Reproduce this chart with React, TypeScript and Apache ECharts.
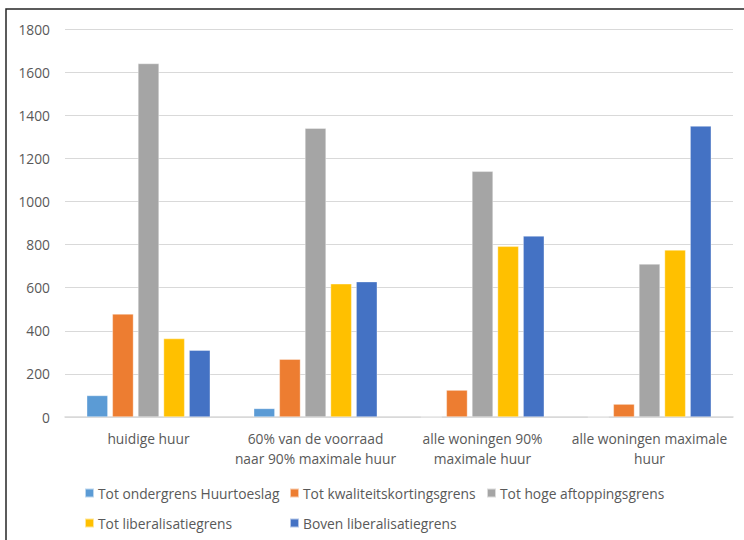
import React, { useEffect, useRef } from "react";
import * as echarts from "echarts";

const categories = [
  "huidige huur",
  "60% van de voorraad\nnaar 90% maximale huur",
  "alle woningen 90%\nmaximale huur",
  "alle woningen maximale\nhuur",
];
const seriesNames = [
  "Tot ondergrens Huurtoeslag",
  "Tot kwaliteitskortingsgrens",
  "Tot hoge aftoppingsgrens",
  "Tot liberalisatiegrens",
  "Boven liberalisatiegrens",
];
const colors = ["#5B9BD5", "#ED7D31", "#A5A5A5", "#FFC000", "#4472C4"];
const ondergrens = [100, 40, 0, 0];
const kwaliteit = [478, 268, 125, 60];
const aftopping = [1640, 1340, 1140, 710];
const liberalisatie = [364, 618, 792, 775];
const boven = [310, 628, 840, 1350];
const seriesValues = [ondergrens, kwaliteit, aftopping, liberalisatie, boven];
const yTicks = [0, 200, 400, 600, 800, 1000, 1200, 1400, 1600, 1800];

const FONT = "Open Sans";
const TXT = "#595959";
const FS = 13.8;

export default function App() {
  const ref = useRef<HTMLDivElement>(null);
  useEffect(() => {
    document.body.style.margin = "0";
    const chart = echarts.init(ref.current!, null, { renderer: "svg" });
    const legendPos = [
      { left: 84, top: 486 },
      { left: 289, top: 486 },
      { left: 486, top: 486 },
      { left: 84, top: 516 },
      { left: 289, top: 516 },
    ];
    chart.setOption({
      animation: false,
      backgroundColor: "#ffffff",
      color: colors,
      textStyle: { fontFamily: FONT },
      grid: { left: 65, right: 11, top: 29, bottom: 123, containLabel: false },
      legend: seriesNames.map((n, i) => ({
        data: [n],
        left: legendPos[i].left,
        top: legendPos[i].top,
        itemWidth: 9,
        itemHeight: 9,
        itemGap: 0,
        padding: 0,
        icon: "rect",
        textStyle: { color: TXT, fontSize: FS, fontFamily: FONT, padding: [0, 0, 0, -1] },
      })),
      xAxis: {
        type: "category",
        data: categories,
        axisLine: { lineStyle: { color: "#d9d9d9", width: 1.5 } },
        axisTick: { show: false },
        axisLabel: {
          color: TXT,
          fontSize: FS,
          fontFamily: FONT,
          lineHeight: 20,
          margin: 11,
          interval: 0,
        },
      },
      yAxis: {
        type: "value",
        min: 0,
        max: yTicks[yTicks.length - 1],
        interval: 200,
        axisLine: { show: false },
        axisTick: { show: false },
        splitLine: { lineStyle: { color: "#d9d9d9", width: 1 } },
        axisLabel: {
          color: TXT,
          fontSize: FS,
          fontFamily: FONT,
          margin: 15,
          formatter: (v: number) => String(v),
        },
      },
      series: seriesNames.map((n, i) => ({
        name: n,
        type: "bar",
        data: seriesValues[i],
        barGap: "21%",
        barCategoryGap: "26%",
        itemStyle: { color: colors[i], borderColor: "rgba(255,255,255,0.6)", borderWidth: 0.6 },
      })),
      graphic: [
        {
          type: "rect",
          shape: { x: 6, y: 9, width: 800, height: 800 },
          style: { fill: "none", stroke: "#262626", lineWidth: 1.5 },
          silent: true,
          z: 100,
        },
      ],
    });
    return () => chart.dispose();
  }, []);
  return <div ref={ref} style={{ width: 744, height: 540 }} />;
}
